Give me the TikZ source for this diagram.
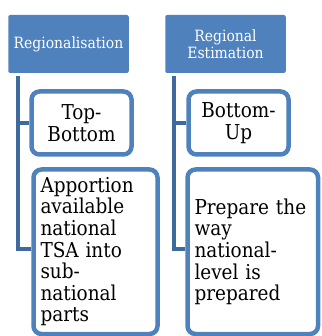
\documentclass[tikz,border=0pt]{standalone}
\usepackage{fontspec}
\setmainfont{DejaVu Serif Condensed}
\usetikzlibrary{positioning,backgrounds}

\definecolor{hdrblue}{HTML}{4F81BD}
\definecolor{linkblue}{HTML}{3E6A9E}

\begin{document}
\begin{tikzpicture}[%
       x=1pt, y=1pt,
       node distance=157pt,
       on grid,
       header/.style={rectangle, rounded corners=2pt, fill=hdrblue, text=white,
         minimum width=120.5pt, minimum height=58pt, align=center, inner sep=2pt,
         font=\fontsize{15.5}{16.5}\selectfont},
       item/.style={rectangle, rounded corners=8pt, draw=hdrblue, line width=4.5pt,
         fill=white, inner xsep=7pt, inner ysep=2pt,
         font=\fontsize{20.5}{21.6}\selectfont},
       link/.style={draw=linkblue, line width=4pt}
     ]
     \useasboundingbox (0,0) rectangle (321,-336);
     \node[header]	(reg)					at (68.5,-44)	{Regionalisation};
     \node[header]	(est)		[right of=reg]				{Regional\\Estimation};
     \node[item, minimum width=100pt, minimum height=63pt, align=center]
     				(topbot)				at (81.5,-123)	{Top-\\Bottom};
     \node[item, minimum width=100pt, minimum height=63pt, align=center]
     				(botup)		[right of=topbot]			{Bottom-\\Up};
     \node[item, text width=110pt, minimum height=164.5pt, align=left]
     				(apport)				at (95.5,-251.75)	{Apportion\\available\\national\\TSA into\\sub-\\national\\parts};
     \node[item, text width=116.5pt, minimum height=164.5pt, align=left]
     				(prep)					at (252.75,-251.75)	{Prepare the\\way\\national-\\level is\\prepared};

     % links behind the boxes
     \begin{scope}[on background layer]
       \coordinate (regtop) at ([xshift=10pt,yshift=-3pt]reg.south west);
       \coordinate (esttop) at ([xshift=9pt,yshift=-3pt]est.south west);
       \path[link] (regtop) |- (topbot.west);
       \path[link] (regtop) |- ([yshift=3pt]apport.west);
       \path[link] (esttop) |- (botup.west);
       \path[link] (esttop) |- ([yshift=3pt]prep.west);
     \end{scope}
\end{tikzpicture}
\end{document}
